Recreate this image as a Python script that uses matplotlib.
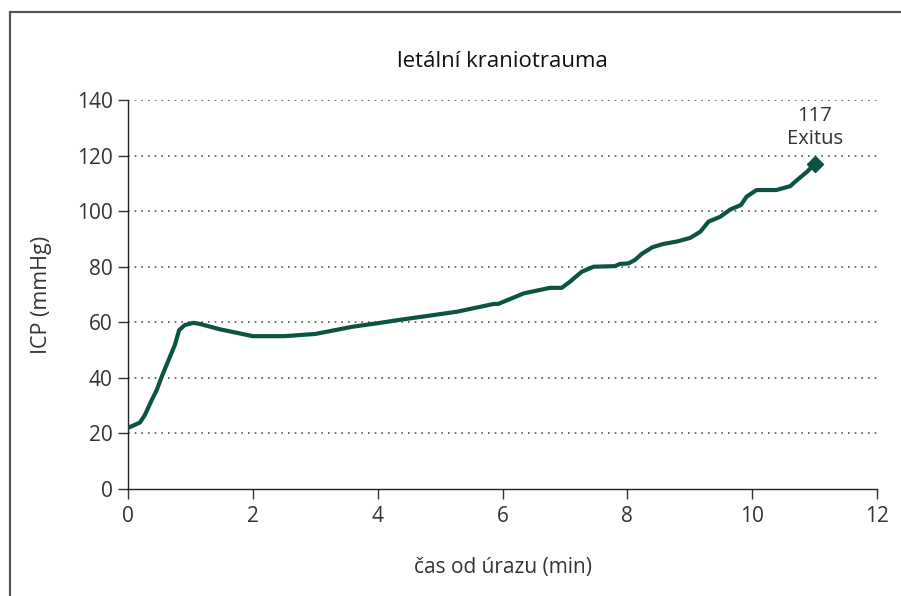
import matplotlib
matplotlib.use("Agg")
import matplotlib.pyplot as plt
from matplotlib.patches import Rectangle

plt.rcParams['font.family'] = ['Open Sans', 'DejaVu Sans']

time_min = [0, 0.19, 0.27, 0.38, 0.46, 0.54, 0.65, 0.75, 0.82, 0.91, 1.05, 1.15,
            1.47, 2.0, 2.5, 3.0, 3.6, 4.04, 4.33, 5.27, 5.86, 5.93, 6.34, 6.76,
            6.95, 7.08, 7.27, 7.46, 7.80, 7.88, 8.02, 8.12, 8.23, 8.40, 8.58,
            8.80, 9.01, 9.17, 9.30, 9.49, 9.65, 9.82, 9.91, 10.07, 10.39, 10.61,
            10.72, 10.88, 11.0]
icp = [22, 23.9, 26.6, 32, 35.6, 40.4, 46.4, 51.8, 57.2, 59, 59.8, 59.4,
       57.5, 55, 55, 55.8, 58.4, 59.8, 60.8, 63.8, 66.6, 66.6, 70.4, 72.4,
       72.4, 74.6, 78.2, 80, 80.2, 81, 81.2, 82.4, 84.6, 87.0, 88.2,
       89.1, 90.4, 92.6, 96.2, 98, 100.6, 102.2, 105.2, 107.6, 107.6, 109,
       111.2, 114.2, 117]
x_ticks = [0, 2, 4, 6, 8, 10, 12]
y_ticks = [0, 20, 40, 60, 80, 100, 120, 140]
title = "letální kraniotrauma"
xlabel = "čas od úrazu (min)"
ylabel = "ICP (mmHg)"
end_label = "117\nExitus"

W, H = 901, 596
fig = plt.figure(figsize=(W / 100, H / 100), dpi=100)
ax = fig.add_axes([128 / W, 1 - 489 / H, (877 - 128) / W, (489 - 100) / H])

green = '#0b5443'
txt = '#333333'

ax.plot(time_min, icp, color=green, lw=3.0, solid_joinstyle='round',
        solid_capstyle='round', zorder=3)
ax.plot([time_min[-1]], [icp[-1]], marker='D', color=green, ms=8, zorder=4)
ax.annotate(end_label, (time_min[-1], icp[-1]), xytext=(0, 11),
            textcoords='offset points', ha='center', va='bottom',
            fontsize=14.5, color=txt, linespacing=1.2)

ax.set_xlim(0, 12)
ax.set_ylim(0, 140)
ax.set_xticks(x_ticks)
ax.set_yticks(y_ticks)
ax.tick_params(labelsize=15, colors=txt, length=7, width=1, direction='out')
ax.tick_params(axis='x', pad=5)
ax.tick_params(axis='y', pad=4)

for g in y_ticks[1:]:
    ax.axhline(g, color='#555555', lw=1.2, ls=(0, (1, 3)), zorder=1)

for s in ['top', 'right']:
    ax.spines[s].set_visible(False)
for s in ['left', 'bottom']:
    ax.spines[s].set_color('#222222')
    ax.spines[s].set_linewidth(1)

ax.set_title(title, fontsize=16, color='#111111', pad=24)
ax.set_xlabel(xlabel, fontsize=15, color=txt, labelpad=22)
ax.set_ylabel(ylabel, fontsize=15.5, color=txt, labelpad=18)

frame = Rectangle((10 / W, -0.1), 1.2, 1 - 12 / H + 0.1, transform=fig.transFigure,
                  fill=False, edgecolor='#555555', lw=1.6, clip_on=False)
fig.patches.append(frame)

fig.savefig("out.png", dpi=100)
